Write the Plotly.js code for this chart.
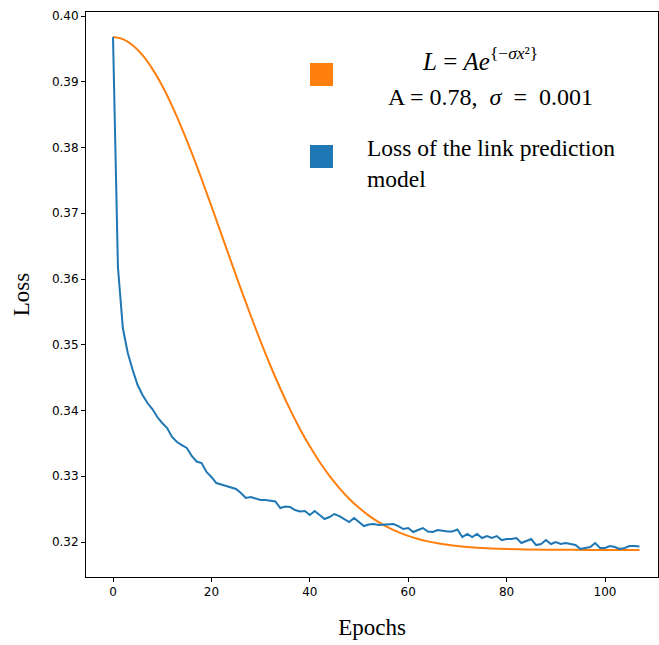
<!DOCTYPE html>
<html>
<head>
<meta charset="utf-8">
<script src="https://cdn.plot.ly/plotly-3.0.1.min.js"></script>
<style>html,body{margin:0;padding:0;background:#fff;}#chart{width:659px;height:645px;}</style>
</head>
<body>
<div id="chart"></div>
<script>
// Blue series: loss of the link prediction model, epochs 0..107
const lossEpochs = [];
for (let i = 0; i <= 107; i++) lossEpochs.push(i);
const lossValues = [
  0.39681, 0.36183, 0.35255, 0.34875, 0.34616, 0.34388, 0.34236, 0.34114, 0.34023, 0.33901,
  0.33810, 0.33734, 0.33597, 0.33521, 0.33475, 0.33430, 0.33308, 0.33224, 0.33202, 0.33065,
  0.32989, 0.32897, 0.32875, 0.32852, 0.32821, 0.32806, 0.32745, 0.32669, 0.32684, 0.32662,
  0.32639, 0.32639, 0.32624, 0.32616, 0.32517, 0.32540, 0.32532, 0.32487, 0.32464, 0.32472,
  0.32411, 0.32472, 0.32411, 0.32350, 0.32380, 0.32426, 0.32395, 0.32350, 0.32304, 0.32365,
  0.32304, 0.32243, 0.32266, 0.32274, 0.32259, 0.32266, 0.32274, 0.32274, 0.32243, 0.32198,
  0.32213, 0.32152, 0.32183, 0.32213, 0.32160, 0.32152, 0.32183, 0.32168, 0.32160, 0.32160,
  0.32190, 0.32076, 0.32122, 0.32076, 0.32122, 0.32061, 0.32091, 0.32061, 0.32091, 0.32030,
  0.32046, 0.32046, 0.32061, 0.31985, 0.32015, 0.32046, 0.31954, 0.31970, 0.32030, 0.31970,
  0.32000, 0.31970, 0.31985, 0.31970, 0.31954, 0.31894, 0.31909, 0.31924, 0.31985, 0.31909,
  0.31909, 0.31939, 0.31924, 0.31894, 0.31909, 0.31939, 0.31939, 0.31932
];

// Orange series: fitted curve
const fitEpochs = [0, 2, 4, 6, 8, 10, 12, 14, 16, 18, 20, 22, 24, 26, 28, 30, 32, 34, 36, 38,
  40, 42, 44, 46, 48, 50, 52, 54, 56, 58, 60, 62, 64, 66, 68, 70, 72, 74, 76, 78,
  80, 84, 88, 92, 96, 100, 104, 107];
const fitValues = [0.39680, 0.39649, 0.39556, 0.39404, 0.39196, 0.38938, 0.38634, 0.38292, 0.37918, 0.37521,
  0.37108, 0.36687, 0.36265, 0.35847, 0.35441, 0.35051, 0.34681, 0.34335, 0.34014, 0.33720,
  0.33455, 0.33217, 0.33005, 0.32820, 0.32659, 0.32520, 0.32402, 0.32302, 0.32219, 0.32150,
  0.32093, 0.32047, 0.32010, 0.31980, 0.31957, 0.31938, 0.31924, 0.31913, 0.31904, 0.31898,
  0.31893, 0.31887, 0.31883, 0.31882, 0.31880, 0.31880, 0.31880, 0.31880];

const xTicks = [0, 20, 40, 60, 80, 100];
const yTicks = [0.32, 0.33, 0.34, 0.35, 0.36, 0.37, 0.38, 0.39, 0.40];
const yTickText = ["0.32", "0.33", "0.34", "0.35", "0.36", "0.37", "0.38", "0.39", "0.40"];

const traces = [
  {x: fitEpochs, y: fitValues, mode: 'lines', line: {color: '#ff7f0e', width: 2, shape: 'spline'}, showlegend: false, hoverinfo: 'skip'},
  {x: lossEpochs, y: lossValues, mode: 'lines', line: {color: '#1f77b4', width: 2}, showlegend: false, hoverinfo: 'skip'}
];

const serif = 'Liberation Serif, Times New Roman, serif';
const tickFont = {family: 'DejaVu Sans, sans-serif', size: 12, color: '#000'};

const layout = {
  width: 659, height: 645,
  margin: {l: 86, r: 1, t: 12, b: 68},
  paper_bgcolor: '#fff', plot_bgcolor: '#fff',
  showlegend: false,
  xaxis: {
    range: [-5.49, 110.77], tickvals: xTicks, ticktext: xTicks.map(String),
    ticks: 'outside', ticklen: 4, tickwidth: 1, tickcolor: '#000',
    showline: true, mirror: true, linecolor: '#000', linewidth: 1,
    showgrid: false, zeroline: false, tickfont: tickFont,
    title: {text: 'Epochs', font: {family: serif, size: 23, color: '#000'}, standoff: 20}
  },
  yaxis: {
    range: [0.31468, 0.40061], tickvals: yTicks, ticktext: yTickText,
    ticks: 'outside', ticklen: 4, tickwidth: 1, tickcolor: '#000',
    showline: true, mirror: true, linecolor: '#000', linewidth: 1,
    showgrid: false, zeroline: false, tickfont: tickFont,
    title: {text: 'Loss', font: {family: serif, size: 23, color: '#000'}, standoff: 15}
  },
  shapes: [
    {type: 'rect', xref: 'paper', yref: 'paper', x0: 0.3916, x1: 0.4318, y0: 0.869, y1: 0.9097, fillcolor: '#ff7f0e', line: {width: 0}},
    {type: 'rect', xref: 'paper', yref: 'paper', x0: 0.3916, x1: 0.4318, y0: 0.7239, y1: 0.7646, fillcolor: '#1f77b4', line: {width: 0}}
  ],
  annotations: [
    {xref: 'paper', yref: 'paper', x: 0.689, y: 0.917, xanchor: 'center', yanchor: 'middle', showarrow: false,
     text: '<i>L</i> = <i>Ae</i><sup>{−<i>σx</i>²}</sup>', font: {family: serif, size: 25, color: '#000'}},
    {xref: 'paper', yref: 'paper', x: 0.708, y: 0.849, xanchor: 'center', yanchor: 'middle', showarrow: false,
     text: 'A = 0.78,  <i>σ</i>  =  0.001', font: {family: serif, size: 24, color: '#000'}},
    {xref: 'paper', yref: 'paper', x: 0.488, y: 0.785, xanchor: 'left', yanchor: 'top', showarrow: false, align: 'left',
     text: 'Loss of the link prediction<br>model', font: {family: serif, size: 23.5, color: '#000'}}
  ]
};

Plotly.newPlot('chart', traces, layout, {displayModeBar: false, staticPlot: true});
</script>
</body>
</html>
